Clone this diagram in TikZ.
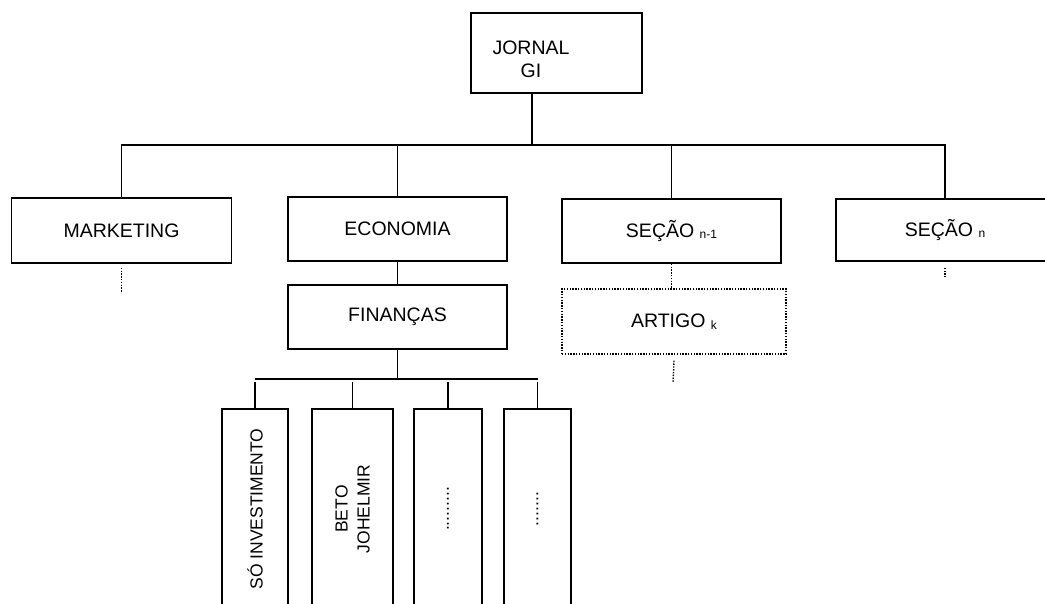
\documentclass[tikz,border=0pt]{standalone}
\usepackage{fontspec}
\setmainfont{Liberation Sans}
\newcommand\secsub[1]{\raisebox{-1.5pt}{\fontsize{12}{12}\selectfont #1}}

\begin{document}
\begin{tikzpicture}[x=1pt,y=-1pt,line width=1.6pt,
    box/.style={draw,rectangle,inner sep=0pt,font=\fontsize{19.5}{23}\selectfont},
    col/.style={draw,rectangle,inner sep=0pt,rotate=90,align=center,minimum width=200pt,font=\fontsize{17.5}{22}\selectfont},
    dots/.style={line width=1.4pt,dash pattern=on 1.4pt off 1.4pt}]
\useasboundingbox (0,0) rectangle (1045,603);
\clip (0,0) rectangle (1045,603);

\node[box,minimum width=171pt,minimum height=80pt] (jornal) at (556.5,53) {};
\node[text width=120pt,align=center,inner sep=0pt,font=\fontsize{19.5}{23}\selectfont] (jornal-txt) at (531,59.5) {JORNAL\\GI};

\node[box,minimum width=220pt,minimum height=65pt] (marketing) at (121.5,230.5) {MARKETING};
\node[box,minimum width=219pt,minimum height=64pt] (economia) at (397.5,229) {ECONOMIA};
\node[box,minimum width=219pt,minimum height=64pt] (financas) at (397.5,317) {FINANÇAS};
\node[box,minimum width=219pt,minimum height=64pt] (secm) at (671.5,231) {SEÇÃO \secsub{n-1}};
\node[box,dots,minimum width=224pt,minimum height=65pt] (artigo) at (674,321.5) {ARTIGO \secsub{k}};
\node[box,minimum width=218pt,minimum height=62pt] (secn) at (945,230) {SEÇÃO \secsub{n}};

\coordinate (hub) at (532,145);
\coordinate (fin-bar) at (397.5,379);
\coordinate (drop) at (0,382);

\draw (hub |- jornal.south) -- (hub);
\draw (marketing.north) -- (marketing |- hub) -- (secn |- hub) -- (secn.north);
\draw (economia.north) -- (economia |- hub);
\draw (secm.north) -- (secm |- hub);
\draw (economia) -- (financas);
\draw (financas.south) -- (fin-bar);

\foreach \x/\w/\txt [count=\i] in {255/66/{SÓ INVESTIMENTO},352.5/81/{BETO\\JOHELMIR},448/68/{.........},537.5/67/{.......}}{
    \node[col,minimum height=\w pt] (art-\i) at (\x,509) {\txt};
    \draw (art-\i |- drop) -- (art-\i.east);
}
\draw (fin-bar -| art-1) -- (fin-bar -| art-4);

\coordinate (mkt-end) at (121.5,293);
\coordinate (artk-end) at (673,383);
\coordinate (secn-end) at (945,277);
\draw[dots] ([yshift=-4pt]marketing.south) -- (mkt-end);
\draw[dots] (secm.south) -- (secm.south |- artigo.north);
\draw[dots] ([yshift=-6pt]artigo.south) -- (artk-end);
\draw[dots] ([yshift=-6pt]secn.south) -- (secn-end);
\end{tikzpicture}
\end{document}
